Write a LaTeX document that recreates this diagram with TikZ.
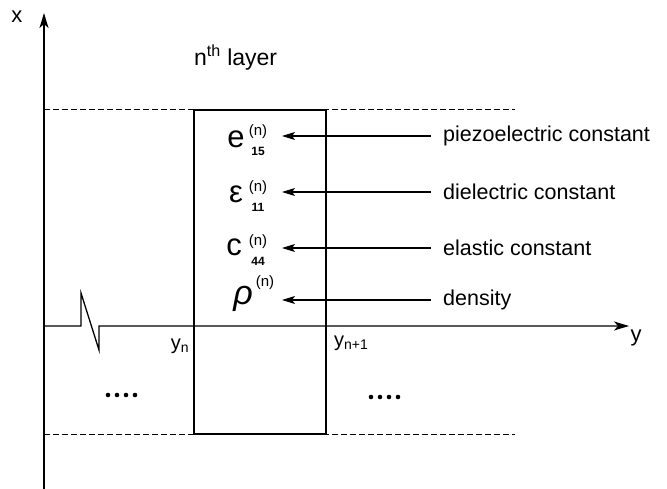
\documentclass[tikz,border=0pt]{standalone}
\usepackage{fontspec}
\setmainfont{Liberation Sans}
\usetikzlibrary{arrows.meta}
\newcommand{\supsub}[1]{(n)\\{\fontsize{12}{20}\selectfont\bfseries #1}}
\tikzset{
  axis/.style={line width=1.3pt},
  edge/.style={line width=1.2pt},
  guide/.style={line width=1pt, dash pattern=on 6pt off 3pt},
  ptr/.style={line width=1.1pt, -{Stealth[length=13pt,width=8pt,inset=3pt]}},
  lbl/.style={inner sep=0pt, anchor=west, font=\fontsize{21.5}{24}\selectfont},
  sym/.style={inner sep=0pt, font=\fontsize{31}{34}\selectfont},
  supn/.style={inner sep=0pt, font=\fontsize{15}{17}\selectfont},
  scr/.style={inner sep=0pt, align=center, font=\fontsize{15}{20}\selectfont},
  dotsym/.style={circle, fill=black, inner sep=0pt, minimum size=4.6pt}
}
\begin{document}
\begin{tikzpicture}[x=1pt,y=-1pt]
\useasboundingbox (0,0) rectangle (667,489);
% axes
\coordinate (xb) at (44,489);
\coordinate (xt) at (44,13);
\draw[axis, -{Stealth[length=15pt,width=9pt,inset=4pt]}] (xb) -- (xt);
\node[inner sep=0pt, font=\fontsize{22}{24}\selectfont] (xl) at (17,17) {x};
\coordinate (y0) at (44,326);
\coordinate (yb1) at (81,326);
\coordinate (yb2) at (81,293);
\coordinate (yb3) at (99,350);
\coordinate (yb4) at (99,326);
\coordinate (yt) at (629,326);
\draw[axis, -{Stealth[length=15pt,width=9pt,inset=4pt]}] (y0) -- (yb1) -- (yb2) -- (yb3) -- (yb4) -- (yt);
\node[inner sep=0pt, font=\fontsize{22}{24}\selectfont] (yl) at (636,338) {y};
% layer box
\node[edge, draw, inner sep=0pt, minimum width=132pt, minimum height=324pt] (box) at (260,272) {};
\coordinate (d1a) at (44,110);
\coordinate (d1b) at (515,110);
\coordinate (d2a) at (44,434);
\coordinate (d2b) at (515,434);
\draw[guide] (d1a) -- (d1b);
\draw[guide] (d2a) -- (d2b);
% title
\node[inner sep=0pt, anchor=base west, font=\fontsize{23}{26}\selectfont] (title) at (194,66) {n\textsuperscript{th} layer};
% y labels
\node[inner sep=0pt, font=\fontsize{20}{22}\selectfont] (yn) at (180,346) {y\textsubscript{n}};
\node[inner sep=0pt, anchor=west, font=\fontsize{20}{22}\selectfont] (yn1) at (334,343) {y\textsubscript{n+1}};
% symbols
\node[sym] (e) at (236,139) {e};
\node[scr] (es) at (258,140) {\supsub{15}};
\node[sym] (eps) at (236,194) {ε};
\node[scr] (epss) at (258,196) {\supsub{11}};
\node[sym] (c) at (234,247) {c};
\node[scr] (cs) at (258,250) {\supsub{44}};
\node[inner sep=0pt, font=\fontsize{34}{36}\selectfont\itshape] (rho) at (243,299) {ρ};
\node[supn] (rho1) at (265,283) {(n)};
% labels and pointers
\node[lbl] (l1) at (443,136) {piezoelectric constant};
\node[lbl] (l2) at (443,192) {dielectric constant};
\node[lbl] (l3) at (443,248) {elastic constant};
\node[lbl] (l4) at (443,300) {density};
\coordinate (a1) at (282,136);
\coordinate (a2) at (282,192);
\coordinate (a3) at (282,248);
\coordinate (a4) at (282,300);
\draw[ptr] (l1.west) ++(-12,0) -- (a1);
\draw[ptr] (l2.west) ++(-12,0) -- (a2);
\draw[ptr] (l3.west) ++(-12,0) -- (a3);
\draw[ptr] (l4.west) ++(-12,0) -- (a4);
% dots
\foreach \i in {0,1,2,3} {
  \node[dotsym] (dl\i) at (108+9*\i,395) {};
  \node[dotsym] (dr\i) at (371+9*\i,397) {};
}
\end{tikzpicture}
\end{document}
